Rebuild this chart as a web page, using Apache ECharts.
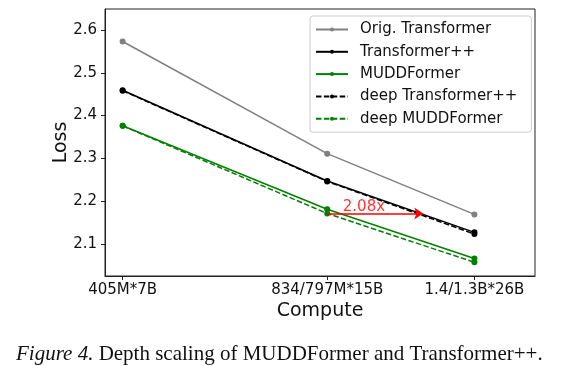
<!DOCTYPE html>
<html><head><meta charset="utf-8">
<script src="https://cdn.jsdelivr.net/npm/echarts@6/dist/echarts.min.js"></script>
<style>html,body{margin:0;padding:0;background:#fff}#c{width:574px;height:366px}</style>
</head><body><div id="c"></div>
<script>
// ---- data ----
const categories = ['405M*7B', '834/797M*15B', '1.4/1.3B*26B'];
const computeParams = [405e6, 834e6, 1.4e9];
const computeTokens = [7e9, 15e9, 26e9];
const origTransformer = [2.573, 2.311, 2.169];
const transformerPP = [2.459, 2.247, 2.127];
const muddFormer = [2.376, 2.181, 2.066];
const deepTransformerPP = [2.458, 2.246, 2.123];
const deepMuddFormer = [2.376, 2.171, 2.057];
const yTicks = [2.1, 2.2, 2.3, 2.4, 2.5, 2.6];
const speedupLabel = '2.08x';
const arrowStartCompute = 834e6 * 15e9;
const arrowEndCompute = 2.51e19;
const arrowLoss = 2.171;
const labelCompute = 1.633e19;
const labelLoss = 2.1867;

// ---- chart ----
const xLog = computeParams.map((p, i) => Math.log10(p * computeTokens[i]));
const pts = vals => vals.map((v, i) => [xLog[i], v]);
const FONT = 'DejaVu Sans';
const AX = '#222';

function lineSeries(name, vals, color, dashed) {
  return {
    name, type: 'line', data: pts(vals),
    symbol: 'circle', symbolSize: 6, showSymbol: true,
    lineStyle: { color, width: 1.5, type: dashed ? [5.5, 2.4] : 'solid' },
    itemStyle: { color },
    emphasis: { disabled: true }
  };
}

const chart = echarts.init(document.getElementById('c'), null, { renderer: 'canvas' });
chart.setOption({
  animation: false,
  backgroundColor: '#fff',
  textStyle: { fontFamily: FONT },
  grid: { left: 105, top: 9, right: 39, bottom: 90, show: true, borderColor: AX, borderWidth: 1, containLabel: false },
  title: {
    left: 11, top: 339,
    text: '{i|Figure 4.} Depth scaling of MUDDFormer and Transformer++.',
    textStyle: {
      fontFamily: 'Liberation Serif', fontSize: 21, fontWeight: 'normal', color: '#111',
      rich: { i: { fontFamily: 'Liberation Serif', fontStyle: 'italic', fontSize: 21, color: '#111' } }
    }
  },
  legend: {
    data: ['Orig. Transformer', 'Transformer++', 'MUDDFormer', 'deep Transformer++', 'deep MUDDFormer'],
    orient: 'vertical', left: 310, top: 16,
    padding: [6, 14, 6, 5],
    itemWidth: 32, itemHeight: 5, itemGap: 7.3,
    backgroundColor: 'rgba(255,255,255,0.8)', borderColor: '#cccccc', borderWidth: 1, borderRadius: 3,
    textStyle: { fontFamily: FONT, fontSize: 15, color: '#111', lineHeight: 15, padding: [0, 0, 0, 7] },
    selectedMode: false
  },
  xAxis: {
    type: 'value', min: 18.397, max: 19.752,
    name: 'Compute', nameLocation: 'middle', nameGap: 26, nameMoveOverlap: false,
    nameTextStyle: { fontFamily: FONT, fontSize: 19, color: '#111' },
    axisLine: { show: true, lineStyle: { color: AX, width: 1 } },
    axisTick: { show: true, customValues: xLog, length: 4, lineStyle: { color: AX } },
    axisLabel: {
      customValues: xLog, margin: 7, fontFamily: FONT, fontSize: 15, color: '#111',
      formatter: v => {
        let best = 0;
        xLog.forEach((x, i) => { if (Math.abs(x - v) < Math.abs(xLog[best] - v)) best = i; });
        return categories[best];
      }
    },
    splitLine: { show: false }
  },
  yAxis: {
    type: 'value', min: 2.025, max: 2.649,
    name: 'Loss', nameLocation: 'middle', nameGap: 34, nameRotate: 90, nameMoveOverlap: false,
    nameTextStyle: { fontFamily: FONT, fontSize: 19, color: '#111' },
    axisLine: { show: true, lineStyle: { color: AX, width: 1 } },
    axisTick: { show: true, customValues: yTicks, length: 4, lineStyle: { color: AX } },
    axisLabel: { customValues: yTicks, margin: 8, fontFamily: FONT, fontSize: 15, color: '#111', formatter: v => v.toFixed(1) },
    splitLine: { show: false }
  },
  series: [
    lineSeries('Orig. Transformer', origTransformer, '#808080', false),
    lineSeries('Transformer++', transformerPP, '#000000', false),
    lineSeries('MUDDFormer', muddFormer, '#008000', false),
    lineSeries('deep Transformer++', deepTransformerPP, '#000000', true),
    lineSeries('deep MUDDFormer', deepMuddFormer, '#008000', true),
    {
      name: 'annotation', type: 'scatter',
      data: [[Math.log10(labelCompute), labelLoss]],
      symbolSize: 1, itemStyle: { color: 'rgba(0,0,0,0)' },
      label: { show: true, position: 'inside', formatter: speedupLabel, color: '#ff0000', fontFamily: FONT, fontSize: 15 },
      emphasis: { disabled: true },
      markLine: {
        silent: true, symbol: ['none', 'arrow'], symbolSize: 9,
        lineStyle: { color: '#ff0000', width: 1.5, type: 'solid' },
        itemStyle: { color: '#ff0000' },
        label: { show: false },
        data: [[
          { coord: [Math.log10(arrowStartCompute), arrowLoss] },
          { coord: [Math.log10(arrowEndCompute), arrowLoss] }
        ]]
      }
    }
  ]
});
</script>
</body></html>
